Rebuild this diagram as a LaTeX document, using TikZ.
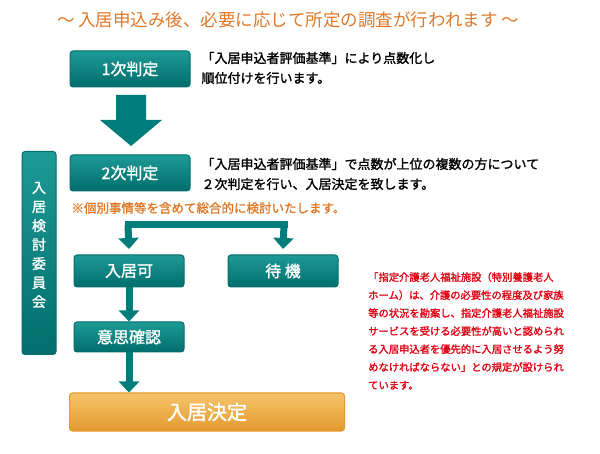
\documentclass[tikz,border=0pt]{standalone}
\usepackage{fontspec}
\setmainfont{Noto Sans CJK JP}
\newfontfamily\jpb{Noto Sans CJK JP}[FakeBold=1.5]
\usetikzlibrary{arrows.meta}
\definecolor{teal1}{HTML}{1E9A96}
\definecolor{teal2}{HTML}{006E6C}
\definecolor{tealA}{HTML}{007C7A}
\definecolor{org1}{HTML}{F7C46C}
\definecolor{org2}{HTML}{E39A2E}
\definecolor{ttl}{HTML}{E07828}
\definecolor{redt}{HTML}{E00010}
\tikzset{
 tbox/.style={draw=teal2,line width=1pt,rounded corners=3pt,top color=teal1,bottom color=teal2,text=white,font=\jpb\fontsize{16}{18}\selectfont,inner sep=0pt},
 obox/.style={draw=org2,line width=1pt,rounded corners=3pt,top color=org1,bottom color=org2,text=white,font=\jpb\fontsize{20}{22}\selectfont,inner sep=0pt},
 desc/.style={anchor=west,font=\jpb\fontsize{13}{20}\selectfont,align=left,text=black},
 darr/.style={draw=tealA,line width=7pt,-{Triangle[width=20pt,length=11pt]},shorten >=0pt},
 bigarr/.style={fill=tealA,draw=none}
}
\begin{document}
\begin{tikzpicture}[x=1pt,y=-1pt]
\useasboundingbox (0,0) rectangle (600,454);
\node[font=\fontsize{17.5}{20}\selectfont,text=ttl] (title) at (288,20) {～\ 入居申込み後、必要に応じて所定の調査が行われます\ ～};
\node[tbox,minimum width=120pt,minimum height=36pt] (j1) at (130,69) {1次判定};
\node[desc] (d1) at (198,68) {「入居申込者評価基準」により点数化し\\順位付けを行います。};
\fill[bigarr] (116,95) -- (146,95) -- (146,120) -- (162,120) -- (131,146) -- (100,120) -- (116,120) -- cycle;
\node[tbox,minimum width=34pt,minimum height=203pt] (iin) at (39,253) {};
\node[text=white,font=\jpb\fontsize{14}{19}\selectfont,align=center] (iintext) at (39,245) {入\\居\\検\\討\\委\\員\\会};
\node[tbox,minimum width=120pt,minimum height=36pt] (j2) at (130,173) {2次判定};
\node[desc] (d2) at (198,174) {「入居申込者評価基準」で点数が上位の複数の方について\\２次判定を行い、入居決定を致します。};
\node[anchor=west,font=\jpb\fontsize{12.5}{14}\selectfont,text=ttl] (note) at (68,208) {※個別事情等を含めて総合的に検討いたします。};
\node[tbox,minimum width=110pt,minimum height=32pt] (ok) at (129,271) {入居可};
\node[tbox,minimum width=110pt,minimum height=32pt] (wait) at (283,271) {待\ 機};
\node[tbox,minimum width=110pt,minimum height=30pt] (ishi) at (129,337) {意思確認};
\node[obox,minimum width=275pt,minimum height=38pt] (kettei) at (207,412) {入居決定};
\coordinate (bl) at (128,225);
\coordinate (br) at (284,225);
\draw[tealA,line width=7pt] ([xshift=-3.5pt]bl) -- ([xshift=3.5pt]br);
\draw[darr] (bl) -- (ok.north |- 0,249);
\draw[darr] (br) -- (wait.north |- 0,249);
\draw[darr] (ok.south) -- (ishi.north);
\draw[darr] (ishi.south) -- (ishi.south |- kettei.north);
\node[anchor=north west,font=\jpb\fontsize{10.3}{18}\selectfont,text=redt,align=left,inner sep=0pt] (law) at (368,272) {「指定介護老人福祉施設（特別養護老人\\ホーム）は、介護の必要性の程度及び家族\\等の状況を勘案し、指定介護老人福祉施設\\サービスを受ける必要性が高いと認められ\\る入居申込者を優先的に入居させるよう努\\めなければならない」との規定が設けられ\\ています。};
\end{tikzpicture}
\end{document}
